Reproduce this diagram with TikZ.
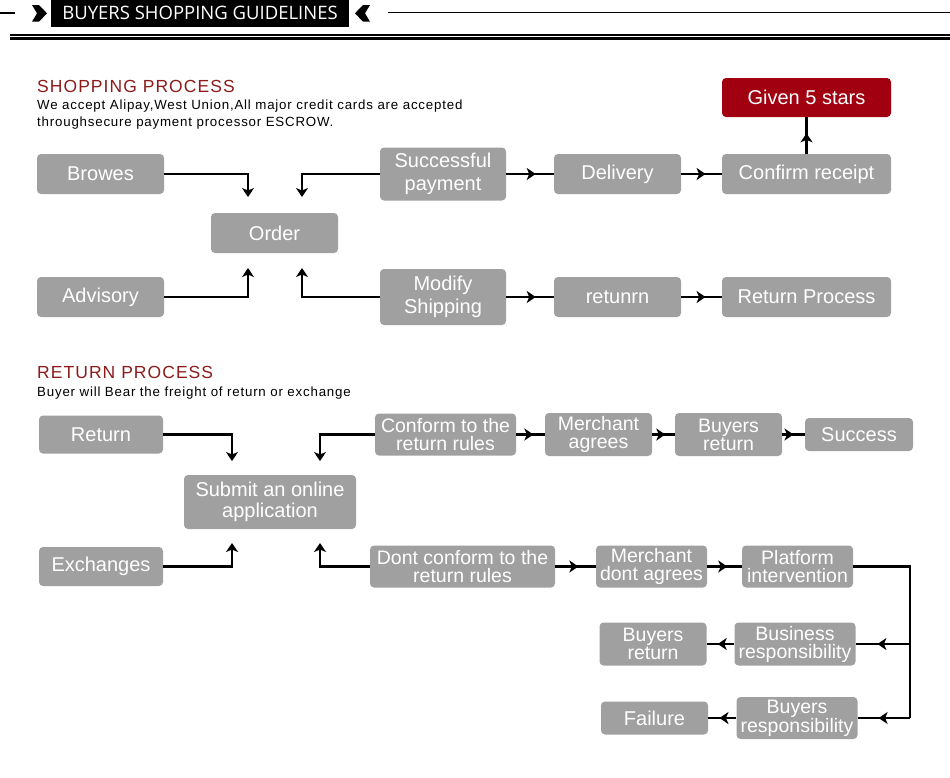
\documentclass[tikz,border=0pt]{standalone}
\usepackage{fontspec}
\setmainfont{Liberation Sans}
\newfontfamily\headfont{Open Sans}
\newfontfamily\notefont[LetterSpace=6]{Liberation Sans}
\usetikzlibrary{arrows.meta,decorations.markings}

\definecolor{boxgray}{RGB}{160,160,160}
\definecolor{starred}{RGB}{160,0,16}
\definecolor{titlered}{RGB}{140,28,28}

\tikzset{
  box/.style={fill=boxgray, rounded corners=4pt, text=white, inner sep=0pt,
    align=center, font=\fontsize{20}{23}\selectfont},
  tight/.style={font=\fontsize{19.5}{18}\selectfont},
  boxsize/.style 2 args={minimum width=#1pt, minimum height=#2pt},
  link/.style={line width=2.1pt},
  ar/.style={link, -{Stealth[length=9pt,width=12pt,inset=2.5pt]}},
  midarr/.style={link, postaction={decorate}, decoration={markings,
    mark=at position #1 with {\arrow{Stealth[length=9pt,width=12pt,inset=2.5pt]}}}},
  title/.style={anchor=base west, inner sep=0pt, text=titlered,
    font=\notefont\fontsize{17.5}{17.5}\selectfont},
  note/.style={anchor=base west, inner sep=0pt, font=\notefont\fontsize{13.3}{17}\selectfont}
}

\begin{document}
\begin{tikzpicture}[x=1pt, y=-1pt]
	\fill[white] (0,0) rectangle (950,777);
	\useasboundingbox (0,0) rectangle (950,777);

	% header
	\draw [line width=1.8pt] (0,13) -- (15,13);
	\fill (32,5) -- (39,5) -- (47,13.3) -- (39,21.7) -- (32,21.7) -- (37,13.3) -- cycle;
	\node [fill=black, text=white, minimum width=298pt, minimum height=27pt, inner sep=0pt,
		font=\headfont\fontsize{18.5}{18.5}\selectfont] (banner) at (200,13.3) {BUYERS SHOPPING GUIDELINES};
	\fill (370,5) -- (363,5) -- (355,13.3) -- (363,21.7) -- (370,21.7) -- (365,13.3) -- cycle;
	\draw [line width=1.5pt] (388,12.5) -- (950,12.5);
	\draw [line width=1.3pt] (10,35) -- (950,35);
	\draw [line width=2.7pt] (10,38.7) -- (950,38.7);

	% SHOPPING PROCESS
	\node [title] (shoptitle) at (37,92) {SHOPPING PROCESS};
	\node [note] (shopnote1) at (37,109.5) {We accept Alipay,West Union,All major credit cards are accepted};
	\node [note] (shopnote2) at (37,126.5) {throughsecure payment processor ESCROW.};

	\node [box, boxsize={127}{40}] (browes) at (100.5,174) {Browes};
	\node [box, boxsize={127}{40}] (order) at (274.5,233) {Order};
	\node [box, boxsize={127}{40}] (advisory) at (100.5,297) {Advisory};
	\node [box, boxsize={126}{53}] (succpay) at (443,174) {Successful\\payment};
	\node [box, boxsize={127}{40}] (delivery) at (617.5,174) {Delivery};
	\node [box, boxsize={169}{40}] (confirm) at (806.5,174) {Confirm receipt};
	\node [box, boxsize={169}{39}, fill=starred] (stars) at (806.5,97.5) {Given 5 stars};
	\node [box, boxsize={126}{56}] (modify) at (443,297) {Modify\\Shipping};
	\node [box, boxsize={127}{40}] (retunrn) at (617.5,297) {retunrn};
	\node [box, boxsize={169}{40}] (retproc) at (806.5,297) {Return Process};

	% into / out of order
	\coordinate (ordin1) at (248,197);
	\coordinate (ordin2) at (302,197);
	\coordinate (ordout1) at (248,268);
	\coordinate (ordout2) at (302,268);
	\draw [ar] (browes.east) -| (ordin1);
	\draw [ar] (succpay.west) -| (ordin2);
	\draw [ar] (advisory.east) -| (ordout1);
	\draw [ar] (modify.west) -| (ordout2);
	% -
	\draw [midarr=0.62] (succpay.east) -- (delivery.west);
	\draw [midarr=0.6] (delivery.east) -- (confirm.west);
	\draw [midarr=0.56] (confirm.north) -- (stars.south);
	\draw [midarr=0.62] (modify.east) -- (retunrn.west);
	\draw [midarr=0.6] (retunrn.east) -- (retproc.west);

	% RETURN PROCESS
	\node [title] (rettitle) at (37,378.5) {RETURN PROCESS};
	\node [note] (retnote) at (37,396.5) {Buyer will Bear the freight of return or exchange};

	\node [box, boxsize={124}{38}] (ret) at (101,434.5) {Return};
	\node [box, boxsize={172}{54}, font=\fontsize{20}{20.5}\selectfont] (submit) at (270,502) {Submit an online\\application};
	\node [box, boxsize={124}{39}] (exch) at (101,566.5) {Exchanges};
	\node [box, tight, boxsize={141}{42}] (conform) at (445.5,434.5) {Conform to the\\return rules};
	\node [box, tight, boxsize={107}{43}] (magree) at (598.5,434.5) {Merchant\\agrees};
	\node [box, tight, boxsize={107}{43}] (bret) at (728.5,434.5) {Buyers\\return};
	\node [box, boxsize={108}{33}] (success) at (859,434.5) {Success};
	\node [box, tight, boxsize={185}{42}] (dont) at (462.5,566.5) {Dont conform to the\\return rules};
	\node [box, tight, boxsize={111}{42}] (mdont) at (651.5,566.5) {Merchant\\dont agrees};
	\node [box, tight, boxsize={111}{42}] (platform) at (797.5,566.5) {Platform\\intervention};
	\node [box, tight, boxsize={121}{43}] (business) at (795,644) {Business\\responsibility};
	\node [box, tight, boxsize={107}{43}] (bret2) at (653,644) {Buyers\\return};
	\node [box, tight, boxsize={121}{42}] (buyresp) at (797,718) {Buyers\\responsibility};
	\node [box, boxsize={107}{33}] (failure) at (654.5,718) {Failure};

	% into / out of submit
	\coordinate (subin1) at (232,461);
	\coordinate (subin2) at (320,461);
	\coordinate (subout1) at (232,543);
	\coordinate (subout2) at (320,543);
	\draw [ar] (ret.east) -| (subin1);
	\draw [ar] (conform.west) -| (subin2);
	\draw [ar] (exch.east) -| (subout1);
	\draw [ar] (dont.west) -| (subout2);
	% -
	\draw [midarr=0.6] (conform.east) -- (magree.west);
	\draw [midarr=0.58] (magree.east) -- (bret.west);
	\draw [midarr=0.5] (bret.east) -- (success.west);
	\draw [midarr=0.57] (dont.east) -- (mdont.west);
	\draw [midarr=0.58] (mdont.east) -- (platform.west);
	% |
	\coordinate (rail1) at (910,644);
	\coordinate (rail2) at (910,718);
	\draw [link] (platform.east) -| (rail2);
	\draw [midarr=0.6] (rail1) -- (business.east);
	\draw [midarr=0.6] (rail2) -- (buyresp.east);
	\draw [midarr=0.6] (business.west) -- (bret2.east);
	\draw [midarr=0.6] (buyresp.west) -- (failure.east);
\end{tikzpicture}
\end{document}
